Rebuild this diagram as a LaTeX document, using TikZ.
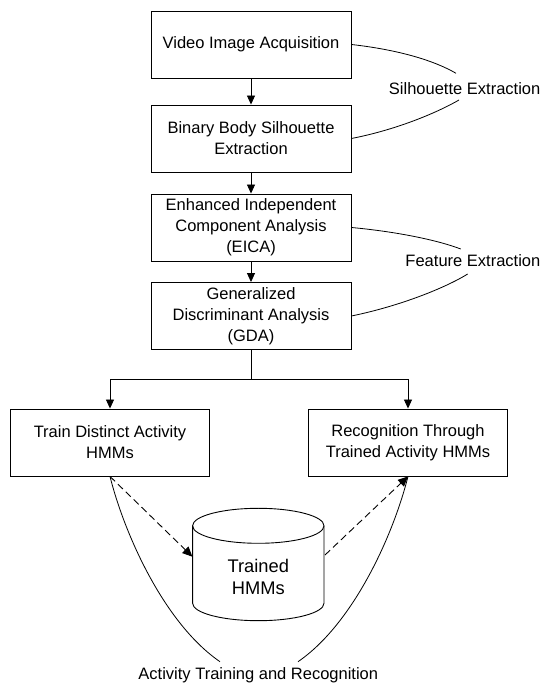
\documentclass[tikz,border=0pt]{standalone}
\usepackage{fontspec}
\setmainfont{Liberation Sans}
\usetikzlibrary{arrows.meta}
\tikzset{
  box/.style={draw, line width=0.9pt, minimum width=200pt, minimum height=67pt, align=center, inner sep=2pt,
    font=\fontsize{16.5}{20.8}\selectfont},
  lbl/.style={font=\fontsize{16.5}{20.8}\selectfont, inner sep=0pt},
  conn/.style={line width=0.9pt, -{Triangle[length=9pt,width=8pt]}},
  dconn/.style={line width=0.9pt, dash pattern=on 7pt off 4pt, -{Triangle[length=10pt,width=9pt]}},
  brace/.style={line width=0.8pt},
  cyl/.style={line width=0.9pt}
}
\begin{document}
\begin{tikzpicture}[x=1pt,y=1pt]
\useasboundingbox (0,0) rectangle (541,686);
% main chain
\node[box] (b1) at (251,641.5) {Video Image Acquisition};
\node[box] (b2) at (251,547.5) {Binary Body Silhouette\\Extraction};
\node[box] (b3) at (251,458.5) {Enhanced Independent\\Component Analysis\\(EICA)};
\node[box] (b4) at (251,370) {Generalized\\Discriminant Analysis\\(GDA)};
\node[box, minimum width=198.6pt] (b5) at (110,243.5) {Train Distinct Activity\\HMMs};
\node[box, minimum width=199.4pt] (b6) at (408,243.5) {Recognition Through\\Trained Activity HMMs};
% cylinder
\node[minimum width=131pt, minimum height=113pt, inner sep=0pt, align=center,
      font=\fontsize{18.3}{22.3}\selectfont] (db) at (258.3,109) {Trained\\HMMs};
\draw[cyl] (192.6,160.2) -- (192.6,82.8) arc[start angle=180,end angle=360,x radius=65.7,y radius=17.5] -- (324,160.2);
\draw[cyl] (258.3,160.2) ellipse[x radius=65.7,y radius=17.5];
% arrows in chain
\draw[conn] (b1) -- (b2);
\draw[conn] (b2) -- (b3);
\draw[conn] (b3) -- (b4);
\coordinate (split) at (251,306.7);
\draw[line width=0.9pt] (b4.south) -- (split);
\draw[conn] (split) -| (b5.north);
\draw[conn] (split) -| (b6.north);
% dashed
\coordinate (dbl) at (192.4,129.3);
\coordinate (dbr) at (325,131);
\draw[dconn] (b5.south) -- (dbl);
\draw[dconn] (dbr) -- (b6.south);
% bottom brace
\coordinate (bl) at (220,24.3);
\coordinate (br) at (298,24.3);
\draw[brace] (b5.south) .. controls (125,150) and (165,62) .. (bl);
\draw[brace] (br) .. controls (353,62) and (393,150) .. (b6.south);
\node[lbl] (act) at (258.3,11) {Activity Training and Recognition};
% silhouette brace
\coordinate (s1) at (456,612.7);
\coordinate (s2) at (459,586);
\draw[brace] (b1.east) .. controls (400,636) and (435,625) .. (s1);
\draw[brace] (b2.east) .. controls (400,557) and (440,575) .. (s2);
\node[lbl, anchor=east] (sil) at (540.5,597.7) {Silhouette Extraction};
% feature brace
\coordinate (f1) at (460.7,437);
\coordinate (f2) at (467.7,412);
\draw[brace] (b3.east) .. controls (400,454) and (440,445) .. (f1);
\draw[brace] (b4.east) .. controls (400,380) and (445,398) .. (f2);
\node[lbl, anchor=east] (fea) at (540.5,425) {Feature Extraction};
\end{tikzpicture}
\end{document}
